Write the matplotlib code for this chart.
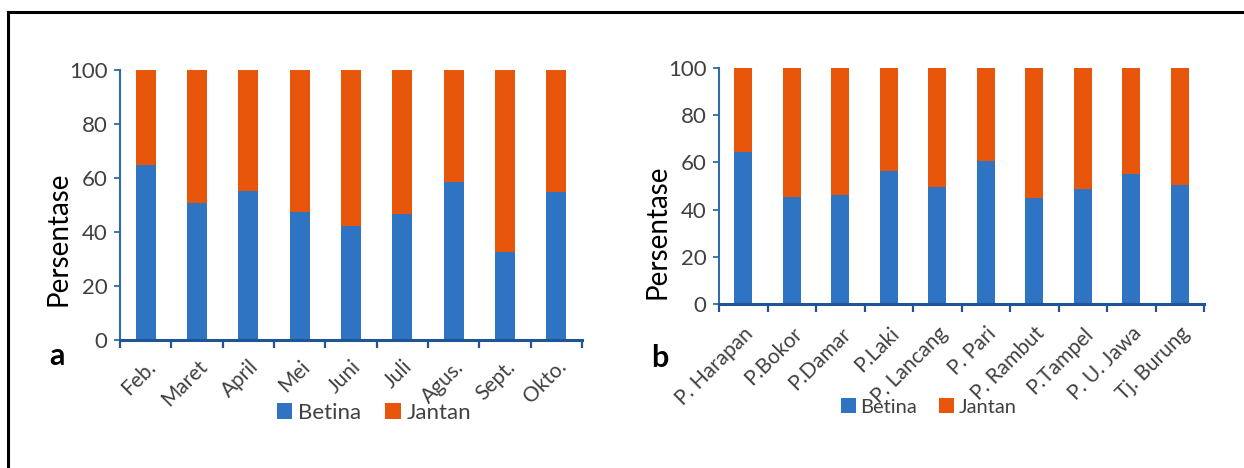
import matplotlib
matplotlib.use("Agg")
import matplotlib.pyplot as plt
from matplotlib.lines import Line2D
import numpy as np

plt.rcParams['font.family'] = ['Lato', 'DejaVu Sans']

months = ["Feb.", "Maret", "April", "Mei", "Juni", "Juli", "Agus.", "Sept.", "Okto."]
betina_a = [64.8, 50.9, 55.2, 47.4, 42.2, 46.5, 58.4, 32.7, 54.7]

sites = ["P. Harapan", "P.Bokor", "P.Damar", "P.Laki", "P. Lancang", "P. Pari",
         "P. Rambut", "P.Tampel", "P. U. Jawa", "Tj. Burung"]
betina_b = [64.6, 45.5, 46.1, 56.3, 49.5, 60.7, 45.0, 48.7, 54.9, 50.4]

C_BLUE = "#2E74C2"
C_ORANGE = "#E8560C"
C_AXIS = "#1F5596"
C_YAXIS = "#2F6CA8"
C_TEXT = "#404040"

fig = plt.figure(figsize=(12.44, 4.68), dpi=100)

# border
fig.add_artist(Line2D([8/1244, 8/1244], [0, 1-12/468], transform=fig.transFigure, color="black", lw=2.2))
fig.add_artist(Line2D([8/1244, 1], [1-12/468, 1-12/468], transform=fig.transFigure, color="black", lw=2.2))


def panel(rect, cats, betina, width, letter, letter_xy, leg_xy, pad, ylab_xy, leg_fs, colsp):
    ax = fig.add_axes(rect)
    x = np.arange(len(cats))
    jantan = [100 - v for v in betina]
    ax.bar(x, betina, width=width, color=C_BLUE, label="Betina", zorder=2)
    ax.bar(x, jantan, bottom=betina, width=width, color=C_ORANGE, label="Jantan", zorder=2)
    ax.set_xlim(-0.5, len(cats) - 0.5)
    ax.set_ylim(0, 100)
    ax.set_yticks([0, 20, 40, 60, 80, 100])
    for s in ["top", "right"]:
        ax.spines[s].set_visible(False)
    ax.spines["left"].set_color(C_YAXIS)
    ax.spines["left"].set_linewidth(1.5)
    ax.spines["bottom"].set_color(C_AXIS)
    ax.spines["bottom"].set_linewidth(2.2)
    ax.tick_params(axis="y", colors=C_YAXIS, labelcolor=C_TEXT, labelsize=16, length=4, width=1.3, pad=5)
    ax.set_xticks(x)
    ax.set_xticklabels(cats, rotation=45, ha="right", rotation_mode="anchor",
                       fontsize=15, color=C_TEXT)
    ax.tick_params(axis="x", length=0, pad=pad)
    ax.set_xticks(np.arange(len(cats) + 1) - 0.5, minor=True)
    ax.tick_params(axis="x", which="minor", length=6, width=1.6, color=C_AXIS)
    ax.set_ylabel("Persentase", fontsize=20, color="black")
    ax.yaxis.set_label_coords(ylab_xy[0], ylab_xy[1])
    fig.text(letter_xy[0], letter_xy[1], letter, fontsize=22, fontweight="bold",
             ha="left", va="center", transform=fig.transFigure)
    ax.legend(loc="center", bbox_to_anchor=leg_xy, bbox_transform=fig.transFigure,
              ncol=2, frameon=False, fontsize=leg_fs, handlelength=0.7, handleheight=0.7,
              handletextpad=0.25, columnspacing=colsp, labelcolor=C_TEXT)
    return ax


panel([120/1244, 1-340/468, (582-120)/1244, (340-70)/468], months, betina_a, 0.39,
      "a", (49/1244, 1-356/468), (374/1244, 1-413/468), 12, (-0.104, 0.374), 16, 1.1)
panel([719/1244, 1-304/468, (1204-719)/1244, (304-68)/468], sites, betina_b, 0.37,
      "b", (651/1244, 1-358/468), (929/1244, 1-407/468), 14, (-0.101, 0.305), 14.5, 1.1)

fig.savefig("out.png", dpi=100)
